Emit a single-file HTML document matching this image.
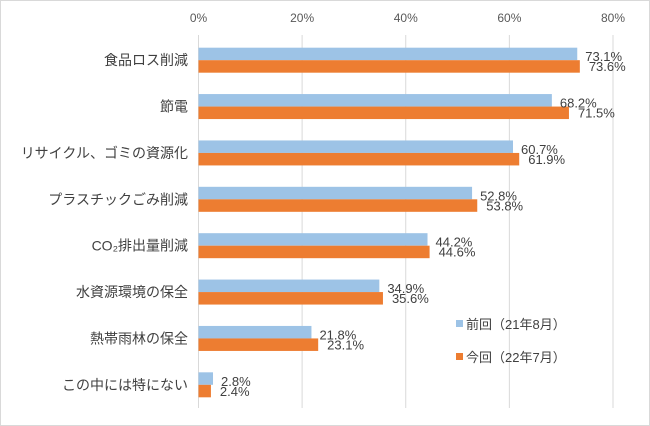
<!DOCTYPE html>
<html><head><meta charset="utf-8"><style>
html,body{margin:0;padding:0;background:#fff;}
svg{display:block;font-family:"Liberation Sans","Noto Sans CJK JP",sans-serif;}
</style></head><body>
<svg id="chart" width="650" height="426">
<rect x="0.5" y="0.5" width="649" height="425" fill="#fff" stroke="#d9d9d9"/>
<g id="grid"></g><g id="bars"></g><g id="labels"></g>
<g>
<rect x="456" y="320" width="7" height="7" fill="#9dc3e6"/>
<text x="466" y="329" font-size="13" fill="#404040">前回（21年8月）</text>
<rect x="456" y="353" width="7" height="7" fill="#ed7d31"/>
<text x="466" y="362" font-size="13" fill="#404040">今回（22年7月）</text>
</g>
</svg>
<script>
const categories=["食品ロス削減","節電","リサイクル、ゴミの資源化","プラスチックごみ削減","CO₂排出量削減","水資源環境の保全","熱帯雨林の保全","この中には特にない"];
const prevValues=[73.1,68.2,60.7,52.8,44.2,34.9,21.8,2.8];
const currValues=[73.6,71.5,61.9,53.8,44.6,35.6,23.1,2.4];
const ticks=[0,20,40,60,80];
const NS="http://www.w3.org/2000/svg";
const x0=198.5,x1=613,xmax=80,plotTop=37,plotBottom=408;
const xs=v=>x0+(x1-x0)*v/xmax;
const rowH=(plotBottom-plotTop)/categories.length;
function mk(t,a,p){const e=document.createElementNS(NS,t);for(const k in a)e.setAttribute(k,a[k]);p.appendChild(e);return e;}
const grid=document.getElementById('grid'),bars=document.getElementById('bars'),labels=document.getElementById('labels');
ticks.forEach(t=>{
 const l=mk('line',{x1:xs(t),x2:xs(t),y1:plotTop-2,y2:plotBottom,stroke:'#d9d9d9','stroke-width':1},grid);
 
 
 const tx=mk('text',{x:xs(t),y:22,'font-size':12,fill:'#595959','text-anchor':'middle'},grid);
 tx.textContent=t+'%';
 
 
});
categories.forEach((c,i)=>{
 const cy=plotTop+rowH*(i+0.5);
 const ct=mk('text',{x:188,y:cy+5,'font-size':14,fill:'#404040','text-anchor':'end'},labels);
 ct.textContent=c;
 
 
 const bh=12.5;
 const b1=mk('rect',{x:x0,y:cy-bh,width:xs(prevValues[i])-x0,height:bh,fill:'#9dc3e6'},bars);
 
 
 const b2=mk('rect',{x:x0,y:cy,width:xs(currValues[i])-x0,height:bh,fill:'#ed7d31'},bars);
 
 
 const t1=mk('text',{x:xs(prevValues[i])+8,y:cy+1,'font-size':13,fill:'#404040'},labels);
 t1.textContent=prevValues[i].toFixed(1)+'%';
 
 
 const t2=mk('text',{x:xs(currValues[i])+9,y:cy+11,'font-size':13,fill:'#404040'},labels);
 t2.textContent=currValues[i].toFixed(1)+'%';
 
 
});
</script>
</body></html>
